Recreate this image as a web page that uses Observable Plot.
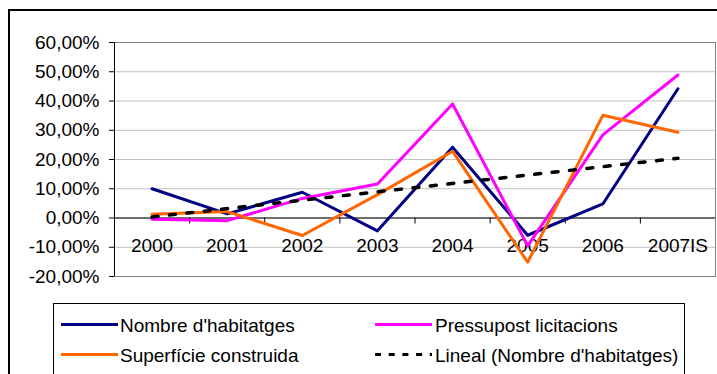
<!DOCTYPE html>
<html>
<head>
<meta charset="utf-8">
<script src="https://cdn.jsdelivr.net/npm/d3@7"></script>
<script src="https://cdn.jsdelivr.net/npm/@observablehq/plot@0.6"></script>
<style>
  html, body { margin: 0; padding: 0; background: #fff; }
  #wrap { position: relative; width: 717px; height: 374px; overflow: hidden; font-family: "Liberation Sans", Arial, sans-serif; }
  #frame { position: absolute; left: 8px; top: 9px; width: 740px; height: 420px; border: 2px solid #000; box-sizing: border-box; }
  #chart { position: absolute; left: 0; top: 0; }
  #legend { position: absolute; left: 53px; top: 303px; width: 632px; height: 100px; border: 1px solid #000; box-sizing: border-box; background: #fff; }
  .lt { position: absolute; font-size: 19px; line-height: 19px; white-space: nowrap; color: #000; }
  #legsw { position: absolute; left: 0; top: 0; }
</style>
</head>
<body>
<div id="wrap">
  <div id="frame"></div>
  <div id="chart"></div>
  <div id="legend"></div>
  <svg id="legsw" width="717" height="374"></svg>
</div>
<script>
// ---- data ----
const years = ["2000", "2001", "2002", "2003", "2004", "2005", "2006", "2007IS"];
const habitatges = [10.0, 1.4, 8.8, -4.4, 24.2, -5.9, 4.8, 44.2];
const pressupost = [-0.4, -0.9, 6.7, 11.6, 39.0, -9.5, 28.4, 48.9];
const superficie = [1.3, 2.2, -6.0, 8.0, 22.8, -15.1, 35.1, 29.3];
const yTicks = [-20, -10, 0, 10, 20, 30, 40, 50, 60];
const seriesNames = ["Nombre d'habitatges", "Pressupost licitacions", "Superfície construida", "Lineal (Nombre d'habitatges)"];
const seriesColors = ["#000080", "#FF00FF", "#FF6600", "#000000"];

const rows = years.map((y, i) => ({i, year: y, hab: habitatges[i], pres: pressupost[i], sup: superficie[i]}));
const boundaries = years.slice(1).map((_, i) => i + 0.5);
const fmt = d => d.toFixed(2).replace(".", ",") + "%";

const chart = Plot.plot({
  width: 717,
  height: 374,
  marginLeft: 114,
  marginRight: 2,
  marginTop: 42,
  marginBottom: 98,
  x: {type: "linear", domain: [-0.5, years.length - 0.5], axis: null},
  y: {domain: [-20, 60], axis: null},
  style: {fontFamily: "'Liberation Sans', Arial, sans-serif", background: "transparent", color: "#000"},
  marks: [
    Plot.gridY(yTicks, {stroke: "#c0c0c0", strokeOpacity: 1}),
    Plot.frame({stroke: "#808080"}),
    Plot.ruleY([0], {stroke: "#000"}),
    Plot.ruleX(boundaries, {x: d => d, y1: 0, y2: 0, insetBottom: -6, stroke: "#000"}),
    Plot.ruleX([-0.5], {stroke: "#000"}),
    Plot.axisY(yTicks, {tickSize: 5, tickPadding: 10, tickFormat: fmt, fontSize: 19, label: null, stroke: "#000"}),
    Plot.text(rows, {x: "i", y: 0, text: "year", dy: 28, fontSize: 19, fill: "#000"}),
    Plot.line(rows, {x: "i", y: "hab", stroke: seriesColors[0], strokeWidth: 3}),
    Plot.line(rows, {x: "i", y: "pres", stroke: seriesColors[1], strokeWidth: 3}),
    Plot.line(rows, {x: "i", y: "sup", stroke: seriesColors[2], strokeWidth: 3}),
    Plot.linearRegressionY(rows, {x: "i", y: "hab", ci: 0, stroke: seriesColors[3], strokeWidth: 3.5, strokeDasharray: "6,11.5"})
  ]
});
document.getElementById("chart").appendChild(chart);

// ---- legend ----
const legend = document.getElementById("legend");
const sw = d3.select("#legsw");
const items = [
  {x: 61, y: 324.5, tx: 120},
  {x: 375, y: 324.5, tx: 435},
  {x: 61, y: 354.5, tx: 120},
  {x: 375, y: 354.5, tx: 435}
];
items.forEach((it, k) => {
  sw.append("line")
    .attr("x1", it.x).attr("x2", it.x + 57)
    .attr("y1", it.y).attr("y2", it.y)
    .attr("stroke", seriesColors[k])
    .attr("stroke-width", 3)
    .attr("stroke-dasharray", k === 3 ? "6,7.7" : null);
  const t = document.createElement("div");
  t.className = "lt";
  t.textContent = seriesNames[k];
  t.style.left = (it.tx - 53 - 1) + "px";
  t.style.top = (it.y + 0.5 - 9.3 - 303 - 1) + "px";
  legend.appendChild(t);
});
</script>
</body>
</html>
